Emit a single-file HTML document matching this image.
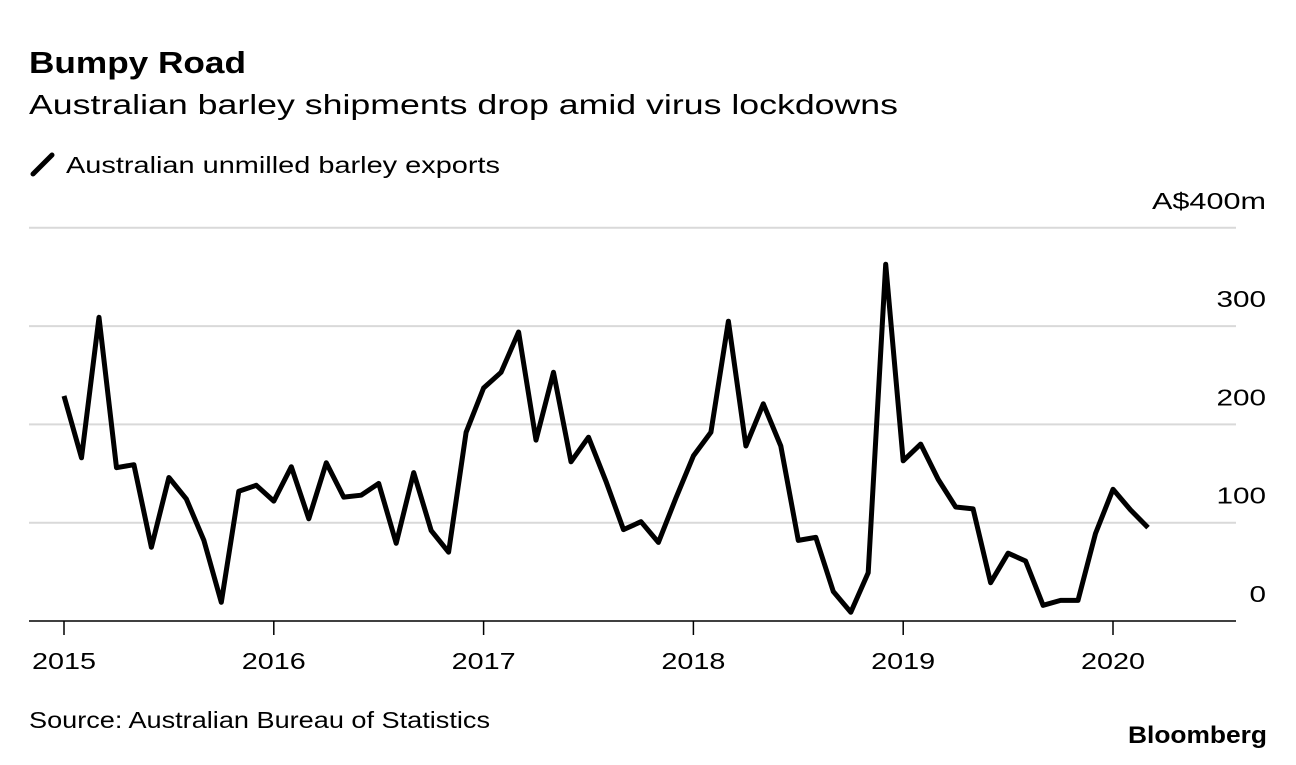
<!DOCTYPE html>
<html><head><meta charset="utf-8">
<style>
body{margin:0;background:#fff;width:1296px;height:760px;overflow:hidden;font-family:"Liberation Sans",sans-serif;}
svg text{font-family:"Liberation Sans",sans-serif;}
</style></head>
<body>
<svg id="chart" width="1296" height="760">
<text x="29" y="73" font-size="31" font-weight="bold" fill="#000" textLength="217" lengthAdjust="spacingAndGlyphs">Bumpy Road</text>
<text x="29" y="114" font-size="28" fill="#000" textLength="869" lengthAdjust="spacingAndGlyphs">Australian barley shipments drop amid virus lockdowns</text>
<line x1="33" y1="174" x2="52" y2="155" stroke="#000" stroke-width="5" stroke-linecap="round"/>
<text x="66" y="173" font-size="23" fill="#000" textLength="434" lengthAdjust="spacingAndGlyphs">Australian unmilled barley exports</text>
<g id="grid"></g>
<g id="xaxis"></g>
<path id="line" fill="none" stroke="#000" stroke-width="5" stroke-linejoin="round"/>
<text x="29" y="728" font-size="23" fill="#000" textLength="461" lengthAdjust="spacingAndGlyphs">Source: Australian Bureau of Statistics</text>
<text x="1128" y="743" font-size="24" font-weight="bold" fill="#000" textLength="139" lengthAdjust="spacingAndGlyphs">Bloomberg</text>
</svg>
<script>
const years=[2015,2016,2017,2018,2019,2020];
const yTicks=[0,100,200,300,400];
const yTickLabels=["0","100","200","300","A$400m"];
const values=[229,166,309,156,159,75,146,124,82,19,132,138,
122,157,104,161,126,128,140,79,151,92,70,192,
237,253,294,184,253,162,187,142,93,101,80,125,
168,192,305,178,221,178,82,85,30,9,49,363,
163,180,144,116,114,39,69,61,16,21,21,89,
134,113,95];
const NS="http://www.w3.org/2000/svg";
const x0=64,perYear=209.8,y0=621,perUnit=0.983;
function xs(i){return x0+i*perYear/12;}
function ys(v){return y0-v*perUnit;}
const grid=document.getElementById('grid');
yTicks.forEach((t,k)=>{
  const l=document.createElementNS(NS,'line');
  l.setAttribute('x1',29);l.setAttribute('x2',1236);
  l.setAttribute('y1',ys(t));l.setAttribute('y2',ys(t));
  l.setAttribute('stroke',t===0?'#000':'#d9d9d9');l.setAttribute('stroke-width',t===0?1.5:2);
  
  
  grid.appendChild(l);
  const tx=document.createElementNS(NS,'text');
  tx.setAttribute('x',1266);tx.setAttribute('y',ys(t)-19);
  tx.setAttribute('text-anchor','end');tx.setAttribute('font-size','23');
  const lbl=yTickLabels[k];
  tx.setAttribute('textLength', lbl.length*(lbl.length>3?19:16.5));
  tx.setAttribute('lengthAdjust','spacingAndGlyphs');
  tx.textContent=lbl;
  
  
  grid.appendChild(tx);
});
const xa=document.getElementById('xaxis');
years.forEach((yr,k)=>{
  const x=xs(k*12);
  const l=document.createElementNS(NS,'line');
  l.setAttribute('x1',x);l.setAttribute('x2',x);l.setAttribute('y1',y0);l.setAttribute('y2',y0+14);
  l.setAttribute('stroke','#000');l.setAttribute('stroke-width',1.5);
  
  
  xa.appendChild(l);
  const tx=document.createElementNS(NS,'text');
  tx.setAttribute('x',x);tx.setAttribute('y',669);
  tx.setAttribute('text-anchor','middle');tx.setAttribute('font-size','23');
  tx.setAttribute('textLength',64);
  tx.setAttribute('lengthAdjust','spacingAndGlyphs');
  tx.textContent=yr;
  
  
  xa.appendChild(tx);
});
document.getElementById('line').setAttribute('d',values.map((v,i)=>(i?'L':'M')+xs(i).toFixed(1)+','+ys(v).toFixed(1)).join(' '));
</script>
</body></html>
